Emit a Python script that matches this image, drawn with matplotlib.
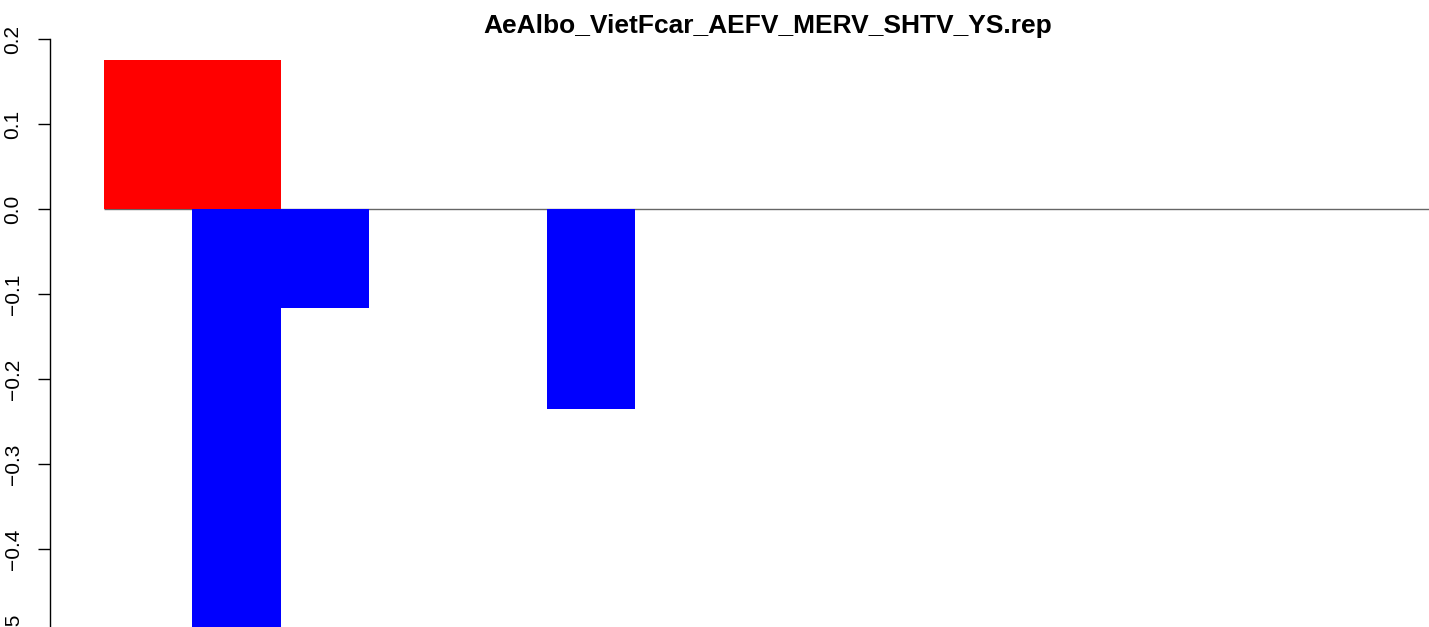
import matplotlib
matplotlib.use("Agg")
import matplotlib.pyplot as plt
import numpy as np

plt.rcParams['font.family'] = ['Liberation Sans', 'DejaVu Sans']

title = "AeAlbo_VietFcar_AEFV_MERV_SHTV_YS.rep"
positive_values = [0.175, 0.175, 0, 0, 0, 0, 0, 0, 0, 0, 0, 0, 0, 0, 0]
negative_values = [0, -0.60, -0.117, 0, 0, -0.235, 0, 0, 0, 0, 0, 0, 0, 0, 0]
ytick_values = [0.2, 0.1, 0.0, -0.1, -0.2, -0.3, -0.4, -0.5]
ytick_labels = ["0.2", "0.1", "0.0", "\u22120.1", "\u22120.2", "\u22120.3", "\u22120.4", "\u22120.5"]

W, H = 1429, 627
fig = plt.figure(figsize=(W / 100, H / 100), dpi=100)

# pixel geometry
spine_x = 50
x0_px = 103.5
unit_px = 88.6
zero_px = 209
per_unit_y = 850.0
ax_bottom_val = -0.53
ax_top_px = 0
ax_bottom_px = zero_px - ax_bottom_val * per_unit_y
ax_top_val = zero_px / per_unit_y

left = spine_x / W
right_px = W
ax = fig.add_axes([left, 1 - ax_bottom_px / H, (right_px - spine_x) / W, (ax_bottom_px - ax_top_px) / H])
ax.set_ylim(ax_bottom_val, ax_top_val)
ax.set_xlim(-(x0_px - spine_x) / unit_px, (right_px - x0_px) / unit_px)

n = len(positive_values)
idx = np.arange(n)
ax.hlines(0, 0, n, colors="#666666", linewidth=1.0, zorder=1)
ax.bar(idx, positive_values, width=1.0, align="edge", color="#ff0000", linewidth=0, zorder=2)
ax.bar(idx, negative_values, width=1.0, align="edge", color="#0000ff", linewidth=0, zorder=2)

for s in ["top", "right", "bottom"]:
    ax.spines[s].set_visible(False)
ax.spines["left"].set_bounds(-0.5, 0.2)
ax.spines["left"].set_linewidth(1.0)
ax.set_xticks([])
ax.set_yticks(ytick_values)
ax.set_yticklabels(ytick_labels, rotation=90, va="center", ha="center", fontsize=15)
ax.tick_params(axis="y", length=8.6, width=1.0, pad=18)

fig.text(768 / W, 1 - 26 / H, title, ha="center", va="center", fontsize=19, fontweight="bold")

fig.savefig("out.png", dpi=100)
